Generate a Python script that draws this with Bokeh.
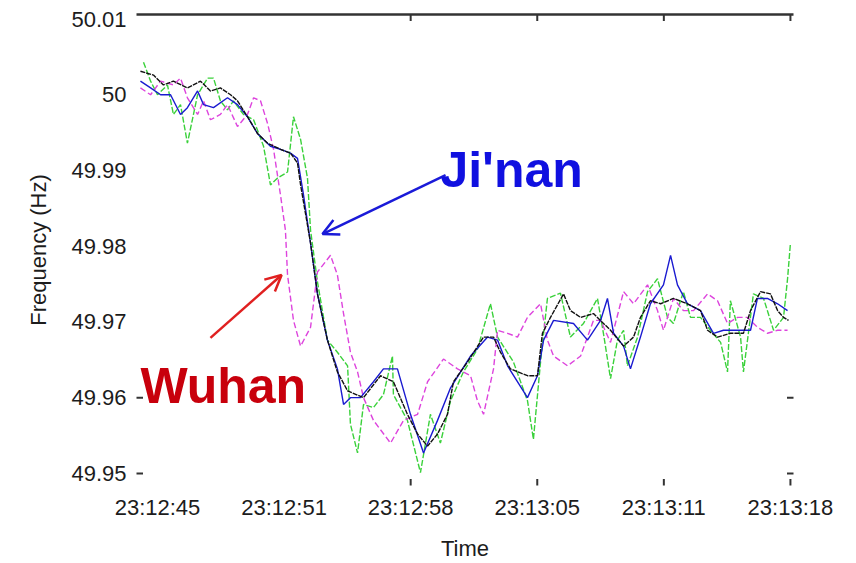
from math import pi

from bokeh.plotting import figure
from bokeh.models import LinearAxis, FixedTicker, Range1d, Arrow, OpenHead, Label
from bokeh.embed import file_html
from bokeh.resources import INLINE

# Time is given in seconds after 23:12:45, frequency in Hz.
black_t = [-0.89, -0.21, 0.31, 0.83, 1.56, 2.24, 2.76, 3.28, 3.81, 4.17, 4.69, 5.21, 5.74,
           6.41, 6.93, 7.30, 7.46, 7.98, 8.34, 8.86, 9.38, 9.91, 10.74, 11.63, 12.30, 13.03,
           13.56, 14.08, 14.60, 15.12, 15.43, 16.16, 17.00, 17.52, 17.88, 18.40, 19.29, 19.81,
           20.07, 20.49, 21.17, 21.53, 22.06, 22.73, 23.62, 24.30, 24.82, 25.18, 25.70, 26.23,
           26.90, 27.63, 28.31, 28.68, 29.20, 29.87, 30.55, 30.92, 31.44, 31.96, 32.33, 32.64,
           32.90]
black_f = [50.0031, 50.0026, 50.0013, 50.0018, 50.0009, 50.0018, 50.0005, 50.0009, 50.0000,
           49.9992, 49.9971, 49.9949, 49.9936, 49.9928, 49.9923, 49.9910, 49.9881, 49.9804,
           49.9737, 49.9676, 49.9634, 49.9609, 49.9600, 49.9629, 49.9621, 49.9578, 49.9552,
           49.9536, 49.9552, 49.9578, 49.9621, 49.9647, 49.9680, 49.9680, 49.9660, 49.9638,
           49.9629, 49.9629, 49.9685, 49.9706, 49.9737, 49.9715, 49.9706, 49.9711, 49.9689,
           49.9668, 49.9680, 49.9706, 49.9728, 49.9724, 49.9731, 49.9724, 49.9715, 49.9689,
           49.9680, 49.9685, 49.9685, 49.9715, 49.9740, 49.9737, 49.9715, 49.9706, 49.9702]

blue_t = [-0.89, -0.36, 0.16, 0.68, 1.20, 1.56, 2.09, 2.40, 2.92, 3.65, 4.17, 4.69, 5.21,
          5.89, 6.41, 6.93, 7.30, 7.61, 7.98, 8.34, 8.86, 9.38, 9.70, 10.06, 10.58, 11.26,
          11.78, 12.51, 13.19, 13.87, 14.60, 15.28, 16.32, 17.21, 17.73, 18.25, 19.29, 19.81,
          20.13, 20.65, 21.69, 22.42, 23.10, 23.46, 23.78, 24.30, 24.66, 25.18, 25.70, 26.38,
          26.75, 27.11, 27.63, 28.31, 28.99, 29.51, 30.24, 30.92, 31.28, 31.80, 32.33, 32.85]
blue_f = [50.0018, 50.0009, 50.0000, 50.0000, 49.9974, 49.9983, 50.0005, 49.9987, 49.9983,
          49.9996, 49.9987, 49.9971, 49.9949, 49.9932, 49.9928, 49.9923, 49.9916, 49.9868,
          49.9804, 49.9737, 49.9676, 49.9638, 49.9591, 49.9600, 49.9600, 49.9621, 49.9638,
          49.9638, 49.9578, 49.9527, 49.9570, 49.9613, 49.9655, 49.9680, 49.9676, 49.9642,
          49.9600, 49.9629, 49.9676, 49.9702, 49.9698, 49.9676, 49.9702, 49.9731, 49.9685,
          49.9668, 49.9638, 49.9680, 49.9724, 49.9749, 49.9788, 49.9749, 49.9724, 49.9715,
          49.9685, 49.9689, 49.9689, 49.9689, 49.9731, 49.9731, 49.9724, 49.9715]

green_t = [-0.73, -0.36, 0.00, 0.52, 0.83, 1.20, 1.56, 2.09, 2.61, 2.92, 3.28, 3.65, 3.96,
           4.48, 5.01, 5.53, 5.89, 6.26, 6.78, 7.09, 7.46, 7.82, 7.98, 8.34, 8.86, 9.38, 9.91,
           10.06, 10.43, 10.74, 11.26, 11.78, 12.25, 12.30, 13.03, 13.71, 14.23, 14.75, 15.28,
           15.95, 16.68, 17.36, 17.73, 18.56, 19.29, 19.60, 19.97, 20.33, 21.01, 21.53, 22.21,
           22.94, 23.25, 23.62, 23.98, 24.30, 24.50, 25.03, 25.55, 26.07, 26.59, 26.90, 27.42,
           27.79, 28.31, 28.83, 29.36, 29.72, 29.87, 30.40, 30.55, 31.07, 31.60, 32.12, 32.64,
           32.85, 33.00]
green_f = [50.0043, 50.0018, 50.0000, 50.0013, 49.9974, 49.9987, 49.9936, 50.0000, 50.0022,
           50.0022, 49.9992, 49.9980, 49.9992, 49.9974, 49.9967, 49.9932, 49.9881, 49.9890,
           49.9898, 49.9971, 49.9941, 49.9890, 49.9821, 49.9753, 49.9676, 49.9660, 49.9642,
           49.9565, 49.9527, 49.9591, 49.9587, 49.9604, 49.9655, 49.9604, 49.9570, 49.9501,
           49.9578, 49.9540, 49.9596, 49.9634, 49.9664, 49.9724, 49.9680, 49.9647, 49.9596,
           49.9545, 49.9647, 49.9731, 49.9738, 49.9680, 49.9698, 49.9731, 49.9685, 49.9625,
           49.9676, 49.9689, 49.9642, 49.9680, 49.9740, 49.9757, 49.9706, 49.9698, 49.9740,
           49.9706, 49.9706, 49.9689, 49.9673, 49.9634, 49.9728, 49.9680, 49.9634, 49.9737,
           49.9731, 49.9689, 49.9706, 49.9757, 49.9804]

magenta_t = [-0.89, -0.36, 0.16, 0.83, 1.20, 1.56, 2.09, 2.40, 2.76, 3.28, 3.65, 4.17, 4.69,
             5.01, 5.37, 5.74, 6.05, 6.41, 6.67, 6.78, 7.09, 7.46, 7.98, 8.34, 9.02, 9.38,
             9.70, 10.06, 10.43, 10.74, 11.26, 12.15, 12.83, 13.56, 14.08, 14.91, 15.64, 16.32,
             16.68, 17.00, 17.52, 17.73, 18.25, 18.77, 19.29, 19.97, 20.33, 20.65, 21.38, 22.06,
             22.73, 23.10, 23.62, 24.30, 24.82, 25.55, 26.07, 26.38, 26.90, 27.42, 27.95, 28.68,
             29.20, 29.72, 30.24, 30.76, 31.28, 31.80, 32.33, 32.85]
magenta_f = [50.0009, 50.0000, 50.0018, 50.0013, 50.0022, 49.9996, 49.9974, 49.9992, 49.9967,
             49.9974, 49.9987, 49.9958, 49.9974, 49.9996, 49.9992, 49.9962, 49.9928, 49.9868,
             49.9821, 49.9762, 49.9702, 49.9668, 49.9693, 49.9766, 49.9788, 49.9762, 49.9711,
             49.9660, 49.9634, 49.9600, 49.9570, 49.9540, 49.9570, 49.9578, 49.9621, 49.9651,
             49.9638, 49.9629, 49.9596, 49.9578, 49.9638, 49.9689, 49.9685, 49.9680, 49.9706,
             49.9724, 49.9676, 49.9655, 49.9642, 49.9655, 49.9702, 49.9702, 49.9673, 49.9740,
             49.9724, 49.9749, 49.9715, 49.9689, 49.9731, 49.9715, 49.9715, 49.9737, 49.9728,
             49.9698, 49.9706, 49.9706, 49.9693, 49.9685, 49.9689, 49.9689]

time_ticks = [0.0, 6.6, 13.2, 19.8, 26.4, 33.0]
time_labels = ["23:12:45", "23:12:51", "23:12:58", "23:13:05", "23:13:11", "23:13:18"]
freq_ticks = [49.95, 49.96, 49.97, 49.98, 49.99, 50.0, 50.01]
freq_labels = ["49.95", "49.96", "49.97", "49.98", "49.99", "50", "50.01"]

# tick marks that remain drawn on the frame edges
marked_time_ticks = time_ticks[2:]
marked_freq_ticks = freq_ticks[:2]

# annotation anchors (time s, frequency Hz)
jinan_text_at = (14.75, 49.9900)
jinan_arrow = (15.02, 49.9894, 8.60, 49.9816)
wuhan_text_at = (-0.89, 49.9616)
wuhan_arrow = (2.76, 49.9679, 6.47, 49.9762)

FONT = "Liberation Sans"
TEXT = "#1c1c1c"

x_range = Range1d(-1.095, 33.16)
y_range = Range1d(49.9484, 50.0106)

p = figure(width=856, height=563, output_backend="svg", toolbar_location=None,
           x_range=x_range, y_range=y_range, x_axis_type=None, y_axis_type=None,
           min_border_left=136, min_border_right=63, min_border_top=14, min_border_bottom=62)
p.outline_line_color = None
p.background_fill_color = "white"
p.border_fill_color = "white"

# axes
left = LinearAxis(ticker=FixedTicker(ticks=freq_ticks),
                  major_label_overrides=dict(zip(freq_ticks, freq_labels)))
left.axis_line_color = None
left.major_tick_line_color = None
left.minor_tick_line_color = None
left.major_tick_out = 0
left.major_tick_in = 0
left.major_label_standoff = 10
left.major_label_text_font = FONT
left.major_label_text_font_size = "22px"
left.major_label_text_color = TEXT
left.axis_label = "Frequency (Hz)"
left.axis_label_text_font = FONT
left.axis_label_text_font_size = "22px"
left.axis_label_text_font_style = "normal"
left.axis_label_text_color = TEXT
left.axis_label_standoff = 17
p.add_layout(left, "left")

bottom = LinearAxis(ticker=FixedTicker(ticks=time_ticks),
                    major_label_overrides=dict(zip(time_ticks, time_labels)))
bottom.axis_line_color = None
bottom.major_tick_line_color = None
bottom.minor_tick_line_color = None
bottom.major_tick_out = 0
bottom.major_tick_in = 0
bottom.major_label_standoff = 9
bottom.major_label_text_font = FONT
bottom.major_label_text_font_size = "22px"
bottom.major_label_text_color = TEXT
bottom.axis_label = "Time"
bottom.axis_label_text_font = FONT
bottom.axis_label_text_font_size = "22px"
bottom.axis_label_text_font_style = "normal"
bottom.axis_label_text_color = TEXT
bottom.axis_label_standoff = 13
p.add_layout(bottom, "below")

top = LinearAxis(ticker=FixedTicker(ticks=[]))
top.axis_line_color = "#333333"
top.axis_line_width = 2.5
top.major_tick_line_color = None
top.minor_tick_line_color = None
p.add_layout(top, "above")

# frequency traces
p.line(green_t, green_f, line_color="#3ad13a", line_width=1.4, line_dash="6 2")
p.line(magenta_t, magenta_f, line_color="#dd44dd", line_width=1.4, line_dash="6 3")
p.line(blue_t, blue_f, line_color="#1a1ad0", line_width=1.4)
p.line(black_t, black_f, line_color="#111111", line_width=1.4, line_dash="5 1")

# inward tick marks on the frame edges (half of each dash is clipped by the frame)
tick_style = dict(marker="dash", size=13, line_color="#333333", line_width=2)
p.scatter(marked_time_ticks, [y_range.end] * len(marked_time_ticks), angle=pi / 2, **tick_style)
p.scatter(marked_time_ticks, [y_range.start] * len(marked_time_ticks), angle=pi / 2, **tick_style)
p.scatter([x_range.start] * len(marked_freq_ticks), marked_freq_ticks, **tick_style)
p.scatter([x_range.end] * len(marked_freq_ticks), marked_freq_ticks, **tick_style)

# station annotations
p.add_layout(Arrow(end=OpenHead(size=16, line_color="#1a1ad8", line_width=2.5),
                   x_start=jinan_arrow[0], y_start=jinan_arrow[1],
                   x_end=jinan_arrow[2], y_end=jinan_arrow[3],
                   line_color="#1a1ad8", line_width=2.5))
p.add_layout(Arrow(end=OpenHead(size=16, line_color="#e02020", line_width=2.5),
                   x_start=wuhan_arrow[0], y_start=wuhan_arrow[1],
                   x_end=wuhan_arrow[2], y_end=wuhan_arrow[3],
                   line_color="#e02020", line_width=2.5))
p.add_layout(Label(x=jinan_text_at[0], y=jinan_text_at[1], text="Ji'nan",
                   text_font=FONT, text_font_size="50px", text_font_style="bold",
                   text_color="#1010e0", text_baseline="alphabetic"))
p.add_layout(Label(x=wuhan_text_at[0], y=wuhan_text_at[1], text="Wuhan",
                   text_font=FONT, text_font_size="50px", text_font_style="bold",
                   text_color="#c8000c", text_baseline="alphabetic"))

open("out.html", "w").write(file_html(p, INLINE))
